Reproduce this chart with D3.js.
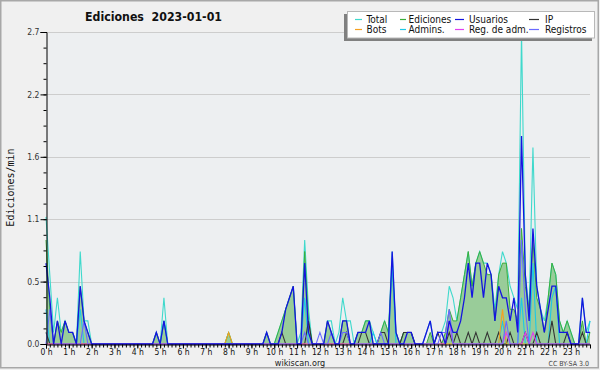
<!DOCTYPE html>
<html><head><meta charset="utf-8">
<script src="https://cdn.jsdelivr.net/npm/d3@7"></script>
<style>html,body{margin:0;padding:0;background:#f0f0f0}svg{display:block}</style>
</head><body><svg id="c" width="600" height="370"></svg>
<script>
// ---- data: 10-minute bins (144 per day), edits per minute ----
const hourLabels = d3.range(24).map(h => h + " h");
const yTickValues = [0, 0.54, 1.08, 1.62, 2.16, 2.7];

const total = [
 1.1,0.6,0.1,0.4,0.1,0.2,0.1,0.1,0,0.8,0.2,0.2,
 0,0,0,0,0,0,0,0,0,0,0,0,
 0,0,0,0,0,0.1,0,0.4,0,0,0,0,
 0,0,0,0,0,0,0,0,0,0,0,0,
 0.1,0,0,0,0,0,0,0,0,0,0.1,0,
 0,0.1,0.2,0.3,0.4,0.5,0,0.1,0.9,0.3,0,0,
 0,0,0.2,0.2,0,0.1,0.4,0.2,0.2,0,0.1,0.1,
 0.2,0.2,0.1,0,0.1,0.2,0.1,0.8,0.1,0,0.1,0.1,
 0.1,0,0,0,0.1,0.2,0,0.1,0.1,0.2,0.5,0.4,
 0.2,0.4,0.6,0.8,0.5,0.7,0.8,0.7,0.7,0.6,0.3,0.6,
 0.8,0.7,0.5,0.4,0.3,2.7,0.6,0.3,1.7,0.5,0.3,0.2,
 0.4,0.7,0.6,0.2,0.1,0.2,0.1,0,0,0.4,0.1,0.2];
const ediciones = [
 0.9,0.3,0,0.2,0.1,0.2,0.1,0.1,0,0.5,0.2,0.1,
 0,0,0,0,0,0,0,0,0,0,0,0,
 0,0,0,0,0,0.1,0,0.2,0,0,0,0,
 0,0,0,0,0,0,0,0,0,0,0,0,
 0.1,0,0,0,0,0,0,0,0,0,0.1,0,
 0,0.1,0.2,0.3,0.4,0.5,0,0,0.8,0.2,0,0,
 0,0,0.2,0.1,0,0,0.2,0.2,0,0,0.1,0.1,
 0.2,0.2,0,0,0.1,0.2,0.1,0.7,0.1,0,0.1,0.1,
 0.1,0,0,0,0,0.1,0,0,0,0.1,0.3,0.2,
 0.2,0.4,0.6,0.8,0.5,0.7,0.8,0.7,0.6,0.6,0.2,0.6,
 0.7,0.7,0.3,0.3,0.2,1.0,0.5,0.3,0.9,0.4,0.3,0.1,
 0.4,0.7,0.6,0.2,0.1,0.2,0.1,0,0,0.2,0,0.1];
const usuarios = [
 0.7,0.4,0,0.2,0,0.2,0.1,0.1,0,0.5,0.2,0.1,
 0,0,0,0,0,0,0,0,0,0,0,0,
 0,0,0,0,0,0.1,0,0.2,0,0,0,0,
 0,0,0,0,0,0,0,0,0,0,0,0,
 0,0,0,0,0,0,0,0,0,0,0.1,0,
 0,0,0.1,0.3,0.4,0.5,0,0,0.7,0.1,0,0,
 0,0,0.2,0.1,0,0,0.2,0.2,0,0,0.1,0.1,
 0.1,0.2,0,0,0,0,0,0.8,0.1,0,0,0.1,
 0.1,0,0,0,0.1,0.2,0,0.1,0.1,0,0.2,0.1,
 0.1,0.2,0.4,0.7,0.4,0.7,0.7,0.4,0.7,0.6,0.2,0.5,
 0.4,0.4,0.2,0.4,0.1,1.8,0.6,0.2,1.0,0.5,0.3,0.1,
 0.3,0.5,0.5,0.1,0.1,0.1,0,0,0,0.4,0.1,0.1];
const ip = [
 0.1,0,0,0,0,0,0,0,0,0,0,0,
 0,0,0,0,0,0,0,0,0,0,0,0,
 0,0,0,0,0,0,0,0,0,0,0,0,
 0,0,0,0,0,0,0,0,0,0,0,0,
 0,0,0,0,0,0,0,0,0,0,0,0,
 0,0,0.1,0,0,0,0,0,0,0.2,0,0,
 0,0,0,0,0,0,0,0.1,0,0,0,0.1,
 0.1,0,0,0,0.1,0.1,0,0,0,0,0.1,0.1,
 0.1,0,0,0,0,0,0,0.1,0,0,0.1,0,
 0.1,0,0,0.1,0,0.1,0,0,0.1,0,0,0.1,
 0,0,0.1,0,0,0,0.1,0,0,0.1,0,0,
 0,0.2,0,0,0,0.1,0,0,0,0.1,0,0];
const bots = [
 0,0,0,0,0,0,0,0,0,0,0,0,
 0,0,0,0,0,0,0,0,0,0,0,0,
 0,0,0,0,0,0,0,0,0,0,0,0,
 0,0,0,0,0,0,0,0,0,0,0,0,
 0.1,0,0,0,0,0,0,0,0,0,0,0,
 0,0,0,0,0,0,0,0,0,0,0,0,
 0,0,0,0,0,0,0,0,0,0,0,0,
 0,0,0,0,0,0,0,0,0,0,0,0,
 0,0,0,0,0,0,0,0,0,0,0,0,
 0,0,0,0,0,0,0,0,0,0,0,0,
 0.3,0,0,0,0,0,0,0,0,0,0,0,
 0,0,0,0,0,0,0,0,0,0,0,0];
const admins = [
 0.3,0,0,0,0,0,0,0,0,0.3,0,0,
 0,0,0,0,0,0,0,0,0,0,0,0,
 0,0,0,0,0,0,0,0.2,0,0,0,0,
 0,0,0,0,0,0,0,0,0,0,0,0,
 0,0,0,0,0,0,0,0,0,0,0,0,
 0,0,0,0,0,0,0,0,0.4,0,0,0,
 0,0,0,0,0,0,0,0,0,0,0,0,
 0,0,0.1,0,0,0,0,0.7,0,0,0,0,
 0,0,0,0,0,0,0,0,0,0,0.2,0,
 0,0,0,0,0,0,0,0,0,0,0,0,
 0.2,0,0,0,0,0.4,0,0,0.7,0,0,0,
 0,0.4,0.5,0,0,0,0,0,0,0,0,0.2];
const regAdm = [
 0,0,0,0,0,0,0,0,0,0,0,0,
 0,0,0,0,0,0,0,0,0,0,0,0,
 0,0,0,0,0,0,0,0,0,0,0,0,
 0,0,0,0,0,0,0,0,0,0,0,0,
 0,0,0,0,0,0,0,0,0,0,0,0,
 0,0,0,0,0,0,0,0,0,0,0,0,
 0,0,0,0,0,0,0,0,0,0,0,0,
 0,0,0,0,0,0,0,0,0,0,0,0,
 0,0,0,0,0,0,0,0,0,0,0.2,0,
 0,0,0,0,0,0,0,0,0,0,0,0,
 0,0.1,0,0,0,0,0.1,0,0.1,0,0,0,
 0,0,0,0,0,0,0,0,0,0,0,0];
const registros = [
 0,0.3,0,0,0,0,0,0,0,0,0.2,0,
 0,0,0,0,0,0,0,0,0,0,0,0,
 0,0,0,0,0,0,0,0,0,0,0,0,
 0,0,0,0,0,0,0,0,0,0,0,0,
 0,0,0,0,0,0,0,0,0,0,0,0,
 0,0,0,0,0,0,0,0,0.1,0,0,0,
 0.1,0,0,0.1,0,0,0.1,0.1,0,0,0,0,
 0,0,0,0,0.1,0,0,0,0,0,0,0,
 0,0,0,0,0,0,0,0,0.1,0.1,0.3,0,
 0,0,0,0,0,0,0,0,0,0,0,0,
 0,0.2,0,0,0,0.9,0.3,0,0,0,0,0,
 0,0,0,0,0,0,0,0,0,0,0,0];

const legendNames = ["Total","Ediciones","Usuarios","IP","Bots","Admins.","Reg. de adm.","Registros"];
const colors = {
  total:"#3fd9cc", ediciones:"#3aae3a", usuarios:"#1414e0", ip:"#333333",
  bots:"#f5a020", admins:"#1ec8e6", regAdm:"#e040f0", registros:"#6a6aff"
};

// ---- layout ----
const svg = d3.select("#c");
const x = d3.scaleLinear().domain([0, 143]).range([46, 590]);
const y = d3.scaleLinear().domain([0, 2.7]).range([344, 32]);

svg.append("rect").attr("width",600).attr("height",370).attr("fill","#f0f0f0");
svg.append("rect").attr("x",0.75).attr("y",0.75).attr("width",597.5).attr("height",367)
  .attr("fill","none").attr("stroke","#a8a8a8").attr("stroke-width",1.5);

// plot background
svg.append("rect").attr("x",x(0)).attr("y",y(2.7)).attr("width",x(143)-x(0)).attr("height",y(0)-y(2.7))
  .attr("fill","#edeff1");

// grid
svg.append("g").selectAll("line").data(yTickValues.slice(1)).join("line")
  .attr("x1",x(0)).attr("x2",x(143)).attr("y1",d=>Math.round(y(d))+0.5).attr("y2",d=>Math.round(y(d))+0.5)
  .attr("stroke","#cdcdcd").attr("stroke-width",1);

// series
const line = d3.line().x((d,i)=>x(i)).y(d=>y(d));
const area = d3.area().x((d,i)=>x(i)).y0(y(0)).y1(d=>y(d));
svg.append("path").datum(ediciones).attr("d",area).attr("fill","#99cc99");
const order = [
  ["total", total, 1.1],
  ["ediciones", ediciones, 1.0],
  ["admins", admins, 1.1],
  ["ip", ip, 1.1],
  ["bots", bots, 1.1],
  ["regAdm", regAdm, 1.1],
  ["registros", registros, 1.1],
  ["usuarios", usuarios, 1.3]
];
order.forEach(([k, arr, w]) => {
  svg.append("path").datum(arr).attr("d",line).attr("fill","none")
    .attr("stroke",colors[k]).attr("stroke-width",w).attr("stroke-linejoin","miter");
});

// axes
const tickFont = "'DejaVu Sans Condensed','DejaVu Sans',sans-serif";
const yAxis = svg.append("g").attr("transform","translate(46.5,0)")
  .call(d3.axisLeft(y).tickValues(yTickValues).tickFormat(d3.format(".1f")).tickSize(6).tickPadding(1));
svg.append("g").attr("transform","translate(46.5,0)")
  .call(d3.axisLeft(y).tickValues(d3.range(0,21).map(k=>k*0.135)).tickFormat("").tickSize(3))
  .select(".domain").remove();
const xAxis = svg.append("g").attr("transform","translate(0,344.5)")
  .call(d3.axisBottom(x).tickValues(d3.range(0,144,6)).tickFormat(i=>hourLabels[i/6]).tickSize(4).tickPadding(0));
svg.append("g").attr("transform","translate(0,344.5)")
  .call(d3.axisBottom(x).tickValues(d3.range(0,144)).tickFormat("").tickSize(3))
  .select(".domain").remove();
svg.selectAll(".tick line").attr("stroke","#000");
svg.selectAll(".domain").attr("stroke","#000");
yAxis.selectAll("text").attr("font-family",tickFont).attr("font-size","8.5px").attr("fill","#333");
xAxis.selectAll("text").attr("font-family",tickFont).attr("font-size","8.5px").attr("fill","#111");

// title
svg.append("text").attr("x",85).attr("y",21).text("Ediciones  2023-01-01")
  .attr("font-family","'DejaVu Sans','Liberation Sans',sans-serif").attr("font-weight","bold")
  .attr("font-size","12px").attr("fill","#111").attr("textLength",137).attr("lengthAdjust","spacingAndGlyphs")
  .style("white-space","pre");

// y label
svg.append("text").attr("transform","translate(14,187.5) rotate(-90)").attr("text-anchor","middle")
  .attr("font-family","'DejaVu Sans Mono',monospace").attr("font-size","10px").attr("fill","#111")
  .text("Ediciones/min");

// footer
svg.append("text").attr("x",300).attr("y",365.5).attr("text-anchor","middle")
  .attr("font-family",tickFont).attr("font-size","9px").attr("fill","#222").text("wikiscan.org");
svg.append("text").attr("x",589).attr("y",365.5).attr("text-anchor","end")
  .attr("font-family",tickFont).attr("font-size","7px").attr("fill","#444").text("CC BY-SA 3.0");

// legend
const lg = svg.append("g");
lg.append("rect").attr("x",344).attr("y",14).attr("width",248).attr("height",27).attr("fill","#808080");
lg.append("rect").attr("x",347.5).attr("y",11.5).attr("width",247).attr("height",26.5)
  .attr("fill","#ffffff").attr("stroke","#b8b8b8");
const legendKeys = ["total","ediciones","usuarios","ip","bots","admins","regAdm","registros"];
const colSw = [[355,362],[400,406],[455,464],[529,539]];
const colTx = [366.5,408.5,469,545];
const rowY = [19.5,29.5];
legendKeys.forEach((k,i) => {
  const c = i % 4, r = Math.floor(i/4);
  lg.append("line").attr("x1",colSw[c][0]).attr("x2",colSw[c][1]).attr("y1",rowY[r]).attr("y2",rowY[r])
    .attr("stroke",colors[k]).attr("stroke-width",1.2);
  lg.append("text").attr("x",colTx[c]).attr("y",rowY[r]+3.5).text(legendNames[i])
    .attr("font-family",tickFont).attr("font-size","10px").attr("fill","#111");
});
</script></body></html>
